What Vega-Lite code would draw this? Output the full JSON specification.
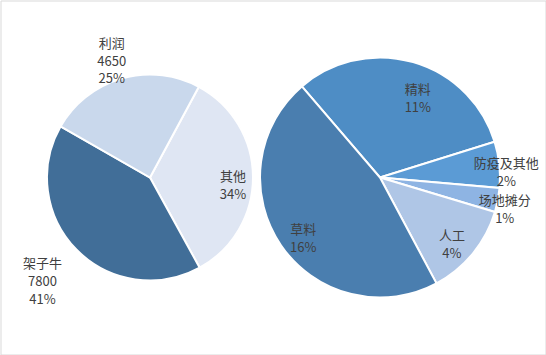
{
  "$schema": "https://vega.github.io/schema/vega-lite/v6.json",
  "width": 545,
  "height": 354,
  "autosize": "none",
  "padding": 0.5,
  "config": {
    "view": {"stroke": "#d9d9d9", "strokeWidth": 1},
    "text": {"font": "Noto Sans CJK SC", "fontSize": 13, "color": "#404040", "lineHeight": 17.8}
  },
  "data": {
    "values": [
      {"pie": "left", "name": "其他", "value": 6450, "idx": 1, "label": "其他\n34%"},
      {"pie": "left", "name": "架子牛", "value": 7800, "idx": 2, "label": "架子牛\n7800\n41%"},
      {"pie": "left", "name": "利润", "value": 4650, "idx": 3, "label": "利润\n4650\n25%"},
      {"pie": "right", "name": "精料", "value": 2030, "idx": 1, "label": "精料\n11%"},
      {"pie": "right", "name": "防疫及其他", "value": 400, "idx": 2, "label": "防疫及其他\n2%"},
      {"pie": "right", "name": "场地摊分", "value": 210, "idx": 3, "label": "场地摊分\n1%"},
      {"pie": "right", "name": "人工", "value": 810, "idx": 4, "label": "人工\n4%"},
      {"pie": "right", "name": "草料", "value": 3000, "idx": 5, "label": "草料\n16%"}
    ]
  },
  "encoding": {
    "x": {"field": "pie", "type": "nominal", "scale": {"domain": ["left", "right"], "range": [149.5, 379.5], "padding": 0}, "axis": null}
  },
  "layer": [
    {
      "transform": [{"filter": "datum.pie === 'left'"}],
      "encoding": {
        "theta": {"field": "value", "type": "quantitative", "stack": true, "scale": {"range": [0.494, 6.777]}},
        "order": {"field": "idx", "type": "quantitative"}
      },
      "layer": [
        {
          "mark": {"type": "arc", "outerRadius": 103, "stroke": "white", "strokeWidth": 2},
          "encoding": {
            "color": {"field": "name", "type": "nominal", "scale": {"domain": ["其他", "架子牛", "利润"], "range": ["#dfe6f3", "#416e98", "#c9d8ec"]}, "legend": null}
          }
        },
        {
          "mark": {"type": "text", "radius": 139, "lineBreak": "\n"},
          "encoding": {"text": {"condition": {"test": "datum.name === '利润'", "field": "label", "type": "nominal"}, "value": ""}}
        },
        {
          "mark": {"type": "text", "radius": 138, "thetaOffset": 0.1, "lineBreak": "\n"},
          "encoding": {"text": {"condition": {"test": "datum.name === '架子牛'", "field": "label", "type": "nominal"}, "value": ""}}
        },
        {
          "mark": {"type": "text", "radius": 83, "lineBreak": "\n"},
          "encoding": {"text": {"condition": {"test": "datum.name === '其他'", "field": "label", "type": "nominal"}, "value": ""}}
        }
      ]
    },
    {
      "transform": [{"filter": "datum.pie === 'right'"}],
      "encoding": {
        "theta": {"field": "value", "type": "quantitative", "stack": true, "scale": {"range": [-0.709, 5.574]}},
        "order": {"field": "idx", "type": "quantitative"}
      },
      "layer": [
        {
          "mark": {"type": "arc", "outerRadius": 120, "stroke": "white", "strokeWidth": 2},
          "encoding": {
            "color": {"field": "name", "type": "nominal", "scale": {"domain": ["精料", "防疫及其他", "场地摊分", "人工", "草料"], "range": ["#4e8dc5", "#5b9bd5", "#8eb4e3", "#afc6e6", "#4a7eaf"]}, "legend": null}
          }
        },
        {
          "mark": {"type": "text", "radius": 95, "thetaOffset": 0.13, "lineBreak": "\n"},
          "encoding": {"text": {"condition": {"test": "datum.name === '精料'", "field": "label", "type": "nominal"}, "value": ""}}
        },
        {
          "mark": {"type": "text", "radius": 93, "lineBreak": "\n"},
          "encoding": {"text": {"condition": {"test": "datum.name === '人工' || datum.name === '草料'", "field": "label", "type": "nominal"}, "value": ""}}
        },
        {
          "mark": {"type": "text", "radius": 127, "lineBreak": "\n"},
          "encoding": {"text": {"condition": {"test": "datum.name === '防疫及其他' || datum.name === '场地摊分'", "field": "label", "type": "nominal"}, "value": ""}}
        }
      ]
    }
  ],
  "resolve": {"scale": {"theta": "independent", "color": "independent"}}
}
